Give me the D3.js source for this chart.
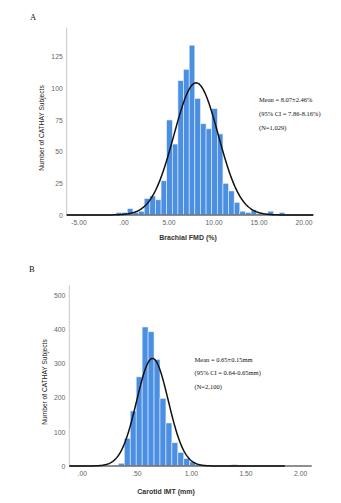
<!DOCTYPE html>
<html><head><meta charset="utf-8">
<script src="https://cdn.jsdelivr.net/npm/d3@7"></script>
<style>body{margin:0;background:#fff}svg{display:block}</style>
</head><body>
<script>
// ---------- Panel A data: Brachial FMD ----------
const fmdBinStart = -0.825;
const fmdBinWidth = 0.625;
const fmdCounts = [2,2,5,2,3,13,15,12,27,75,56,106,115,134,92,72,68,84,64,25,19,10,3,2,4,1,0,3,0,2];
const fmdMean = 8.07, fmdSD = 2.46, fmdN = 1029;
const fmdXTicks = [-5, 0, 5, 10, 15, 20];
const fmdXTickLabels = ["-5.00", ".00", "5.00", "10.00", "15.00", "20.00"];
const fmdYTicks = [0, 25, 50, 75, 100, 125];
const fmdNotes = ["Mean = 8.07\u00b12.46%", "(95% CI = 7.86-8.16%)", "(N=1,029)"];

// ---------- Panel B data: Carotid IMT ----------
const imtBinStart = 0.2805;
const imtBinWidth = 0.0545;
const imtCounts = [2,8,81,161,261,407,393,312,198,126,68,40,22,12,4,2,1,0,0,0,4];
const imtMean = 0.648, imtSD = 0.145, imtN = 2100;
const imtXTicks = [0, 0.5, 1, 1.5, 2];
const imtXTickLabels = [".00", ".50", "1.00", "1.50", "2.00"];
const imtYTicks = [0, 100, 200, 300, 400, 500];
const imtNotes = ["Mean = 0.65\u00b10.15mm", "(95% CI = 0.64-0.65mm)", "(N=2,100)"];

const W = 341, H = 503;
const svg = d3.select("body").append("svg").attr("width", W).attr("height", H);

function panel(o) {
  const g = svg.append("g");
  const x = d3.scaleLinear().domain(o.xDomain).range([o.left, o.right]);
  const y = d3.scaleLinear().domain(o.yDomain).range([o.bottom, o.top]);
  const bins = o.counts.map((c, i) => ({x0: o.binStart + i * o.binWidth, x1: o.binStart + (i + 1) * o.binWidth, c}));

  // bars
  g.selectAll("rect.bar").data(bins.filter(b => b.c > 0)).join("rect")
    .attr("x", d => x(d.x0)).attr("width", d => x(d.x1) - x(d.x0))
    .attr("y", d => y(d.c)).attr("height", d => y(0) - y(d.c))
    .attr("fill", "#4b8fe3").attr("stroke", "#e6effa").attr("stroke-width", 0.6);

  // y axis line (light gray)
  g.append("line").attr("x1", o.left).attr("x2", o.left).attr("y1", o.top).attr("y2", o.bottom)
    .attr("stroke", "#c8c8c8").attr("stroke-width", 1);

  // y ticks
  const ya = d3.axisLeft(y).tickValues(o.yTicks).tickSize(0).tickPadding(4).tickFormat(d3.format("d"));
  const yg = g.append("g").attr("transform", `translate(${o.left},0)`).call(ya);
  yg.select(".domain").remove();
  yg.selectAll("text").attr("fill", "#666").attr("font-family", "Arial, 'Liberation Sans', sans-serif").attr("font-size", 6.8);

  // x ticks
  const xa = d3.axisBottom(x).tickValues(o.xTicks).tickSize(0).tickPadding(5)
    .tickFormat((d, i) => o.xTickLabels[i]);
  const xg = g.append("g").attr("transform", `translate(0,${o.bottom})`).call(xa);
  xg.select(".domain").remove();
  xg.selectAll("text").attr("fill", "#666").attr("font-family", "Arial, 'Liberation Sans', sans-serif").attr("font-size", 6.8);

  // x axis baseline (dark)
  g.append("line").attr("x1", o.left).attr("x2", o.right).attr("y1", o.bottom).attr("y2", o.bottom)
    .attr("stroke", "#6a6a6a").attr("stroke-width", 1.6);

  // normal curve
  const peakScale = o.N * o.binWidth / (o.sd * Math.sqrt(2 * Math.PI));
  const pts = d3.range(0, 401).map(i => {
    const xv = o.curveDomain[0] + (o.curveDomain[1] - o.curveDomain[0]) * i / 400;
    const z = (xv - o.mean) / o.sd;
    return [xv, peakScale * Math.exp(-0.5 * z * z)];
  });
  g.append("path").datum(pts)
    .attr("d", d3.line().x(d => x(d[0])).y(d => y(d[1])).curve(d3.curveLinear))
    .attr("fill", "none").attr("stroke", "#111").attr("stroke-width", 1.5);

  // axis titles
  g.append("text").attr("x", o.xTitleX).attr("y", o.xTitleY).attr("text-anchor", "middle")
    .attr("font-family", "Arial, 'Liberation Sans', sans-serif").attr("font-weight", "bold")
    .attr("font-size", 7).attr("fill", "#333").text(o.xTitle);
  g.append("text").attr("transform", `translate(${o.yTitleX},${o.yTitleY}) rotate(-90)`).attr("text-anchor", "middle")
    .attr("font-family", "Arial, 'Liberation Sans', sans-serif")
    .attr("font-size", 6.6).attr("fill", "#222").text(o.yTitle);

  // panel letter
  g.append("text").attr("x", o.letterX).attr("y", o.letterY)
    .attr("font-family", "'Liberation Serif', 'Times New Roman', serif").attr("font-size", 8.5)
    .attr("fill", "#111").text(o.letter);

  // annotation
  o.notes.forEach((t, i) => {
    g.append("text").attr("x", o.noteX).attr("y", o.noteY + i * o.noteDy)
      .attr("font-family", "'Liberation Serif', 'Times New Roman', serif").attr("font-size", 6.5)
      .attr("fill", "#111").text(t);
  });
}

panel({
  counts: fmdCounts, binStart: fmdBinStart, binWidth: fmdBinWidth,
  mean: fmdMean, sd: fmdSD, N: fmdN,
  xDomain: [-6.31, 21.09], yDomain: [0, 148],
  left: 66.7, right: 313.3, top: 27.5, bottom: 215,
  curveDomain: [-6.31, 21.09],
  xTicks: fmdXTicks, xTickLabels: fmdXTickLabels, yTicks: fmdYTicks,
  xTitle: "Brachial FMD (%)", xTitleX: 188, xTitleY: 240,
  yTitle: "Number of CATHAY Subjects", yTitleX: 44, yTitleY: 128,
  letter: "A", letterX: 30, letterY: 20,
  notes: fmdNotes, noteX: 259, noteY: 101.5, noteDy: 14.3
});

panel({
  counts: imtCounts, binStart: imtBinStart, binWidth: imtBinWidth,
  mean: imtMean, sd: imtSD, N: imtN,
  xDomain: [-0.114, 2.106], yDomain: [0, 530],
  left: 69.3, right: 311.7, top: 285, bottom: 466,
  curveDomain: [-0.114, 1.86],
  xTicks: imtXTicks, xTickLabels: imtXTickLabels, yTicks: imtYTicks,
  xTitle: "Carotid IMT (mm)", xTitleX: 166, xTitleY: 493.5,
  yTitle: "Number of CATHAY Subjects", yTitleX: 47, yTitleY: 382,
  letter: "B", letterX: 29, letterY: 271.5,
  notes: imtNotes, noteX: 194.5, noteY: 361.5, noteDy: 13.7
});
</script>
</body></html>
